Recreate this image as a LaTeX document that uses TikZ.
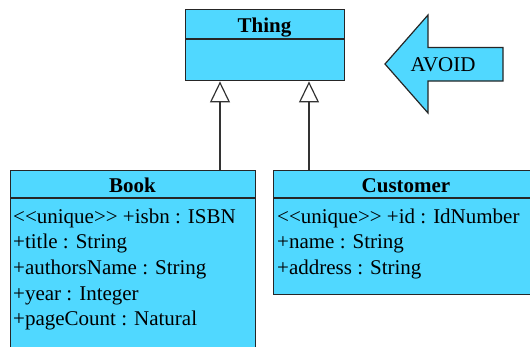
\documentclass[tikz,border=0pt]{standalone}
\usepackage{fontspec}
\setmainfont{Liberation Serif}
\usetikzlibrary{arrows.meta}
\definecolor{umlcyan}{HTML}{50D8FF}

\begin{document}
\begin{tikzpicture}[x=1pt,y=-1pt,
    cls/.style={draw=black!85,fill=umlcyan,line width=1.2pt,inner sep=0pt,anchor=north west},
    ttl/.style={anchor=base,inner sep=0pt,font=\fontsize{21}{25}\selectfont\bfseries},
    attr/.style={anchor=base west,inner sep=0pt,font=\fontsize{21}{25}\selectfont},
    isa/.style={draw=black!80,line width=1.2pt,
      -{Triangle[open,width=20pt,length=21pt,line width=1.2pt]}}]
  \useasboundingbox (0,0) rectangle (530,346);
  \clip (0,0) rectangle (530,346);
  % classes
  \node[cls,minimum width=159pt,minimum height=28.5pt] (thing) at (185,9) {};
  \node[cls,minimum width=159pt,minimum height=41.5pt] (thing-body) at (thing.south west) {};
  \node[cls,minimum width=245pt,minimum height=27pt] (book) at (10,170) {};
  \node[cls,minimum width=245pt,minimum height=170pt] (book-body) at (book.south west) {};
  \node[cls,minimum width=320pt,minimum height=27pt] (customer) at (273,170) {};
  \node[cls,minimum width=320pt,minimum height=96pt] (customer-body) at (customer.south west) {};
  \node[ttl] (thing-name) at (264.5,32) {Thing};
  \node[ttl] (book-name) at (132.5,192) {Book};
  \node[ttl] (customer-name) at (406,192) {Customer};
  % attributes
  \foreach \txt [count=\i] in {{{<}{<}unique{>}{>} +isbn : ISBN},{+title : String},
      {+authorsName : String},{+year : Integer},{+pageCount : Natural}}
    \node[attr] (book-a\i) at (13,{223+25.7*(\i-1)}) {\txt};
  \foreach \txt [count=\i] in {{{<}{<}unique{>}{>} +id : IdNumber},{+name : String},
      {+address : String}}
    \node[attr] (customer-a\i) at (277,{223+25.7*(\i-1)}) {\txt};
  % generalisations
  \coordinate (isa1) at (220,0);
  \coordinate (isa2) at (309,0);
  \draw[isa] (isa1 |- book.north) -- (isa1 |- thing-body.south);
  \draw[isa] (isa2 |- customer.north) -- (isa2 |- thing-body.south);
  % avoid sign
  \filldraw[draw=black!85,fill=umlcyan,line width=1.2pt,line join=miter]
    (503,47.5) -- (428,47.5) -- (428,15) -- (385,64) -- (428,113)
    -- (428,81) -- (503,81) -- cycle;
  \node[anchor=base,inner sep=0pt,font=\fontsize{21}{25}\selectfont] (avoid) at (443,71) {AVOID};
\end{tikzpicture}
\end{document}
